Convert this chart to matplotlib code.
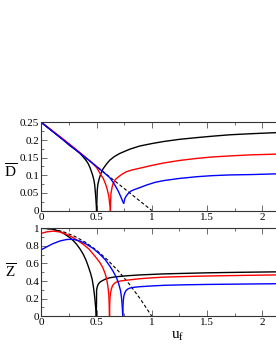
import matplotlib
matplotlib.use("Agg")
import matplotlib.pyplot as plt
from matplotlib.ticker import MultipleLocator

plt.rcParams['font.family'] = ['Liberation Serif', 'DejaVu Serif']
plt.rcParams['mathtext.fontset'] = 'custom'
plt.rcParams['mathtext.rm'] = 'Liberation Serif'
plt.rcParams['mathtext.it'] = 'Liberation Serif:italic'

# ---- D-bar panel data ----
d_dash_u = [0.0, 1.0]
d_dash_v = [0.25, 0.0]

d_black_left_u = [0.0, 0.10, 0.20, 0.258, 0.29, 0.319, 0.35, 0.379, 0.405, 0.424, 0.44, 0.454, 0.466, 0.476, 0.483, 0.487, 0.491, 0.494, 0.497, 0.5]
d_black_left_v = [0.25, 0.225, 0.200, 0.184, 0.177, 0.170, 0.162, 0.152, 0.142, 0.133, 0.122, 0.110, 0.098, 0.086, 0.072, 0.058, 0.044, 0.030, 0.015, 0.0]
d_black_right_u = [0.5, 0.502, 0.504, 0.506, 0.512, 0.524, 0.54, 0.56, 0.59, 0.62, 0.66, 0.71, 0.80, 0.89, 1.0, 1.11, 1.25, 1.41, 1.55, 1.71, 1.9, 2.125]
d_black_right_v = [0.0, 0.020, 0.040, 0.058, 0.075, 0.091, 0.106, 0.119, 0.132, 0.143, 0.153, 0.162, 0.174, 0.183, 0.190, 0.196, 0.202, 0.207, 0.211, 0.215, 0.218, 0.221]

d_red_left_u = [0.0, 0.10, 0.20, 0.30, 0.40, 0.45, 0.50, 0.53, 0.56, 0.575, 0.59, 0.60, 0.609, 0.614, 0.618, 0.622, 0.625]
d_red_left_v = [0.25, 0.226, 0.202, 0.177, 0.151, 0.138, 0.122, 0.106, 0.091, 0.080, 0.067, 0.055, 0.043, 0.032, 0.020, 0.010, 0.0]
d_red_right_u = [0.625, 0.627, 0.63, 0.64, 0.65, 0.67, 0.696, 0.73, 0.77, 0.82, 0.89, 1.0, 1.11, 1.25, 1.41, 1.55, 1.71, 1.9, 2.125]
d_red_right_v = [0.0, 0.025, 0.048, 0.066, 0.077, 0.088, 0.095, 0.103, 0.110, 0.115, 0.120, 0.128, 0.135, 0.142, 0.148, 0.152, 0.155, 0.158, 0.160]

d_blue_left_u = [0.0, 0.10, 0.20, 0.30, 0.40, 0.50, 0.58, 0.62, 0.65, 0.675, 0.696, 0.712, 0.726, 0.735, 0.741, 0.745]
d_blue_left_v = [0.25, 0.225, 0.200, 0.175, 0.150, 0.125, 0.104, 0.093, 0.080, 0.067, 0.055, 0.044, 0.034, 0.027, 0.023, 0.021]
d_blue_right_u = [0.745, 0.75, 0.756, 0.77, 0.786, 0.81, 0.847, 0.892, 0.95, 1.03, 1.11, 1.25, 1.41, 1.55, 1.71, 1.9, 2.125]
d_blue_right_v = [0.021, 0.026, 0.034, 0.042, 0.048, 0.055, 0.060, 0.065, 0.072, 0.080, 0.085, 0.091, 0.096, 0.099, 0.101, 0.102, 0.104]

# ---- Z-bar panel data ----
z_dash_u = [0.0, 0.1, 0.2, 0.3, 0.4, 0.5, 0.6, 0.7, 0.8, 0.9, 1.0]
z_dash_v = [1.0, 0.99, 0.96, 0.91, 0.84, 0.75, 0.64, 0.51, 0.36, 0.19, 0.0]

z_black_left_u = [0.0, 0.05, 0.10, 0.168, 0.21, 0.258, 0.29, 0.319, 0.35, 0.379, 0.405, 0.424, 0.445, 0.46, 0.47, 0.478, 0.485, 0.49, 0.494, 0.497]
z_black_left_v = [1.0, 0.997, 0.99, 0.965, 0.935, 0.893, 0.858, 0.818, 0.765, 0.705, 0.635, 0.570, 0.490, 0.420, 0.345, 0.270, 0.190, 0.120, 0.060, 0.0]
z_black_right_u = [0.497, 0.499, 0.5, 0.507, 0.515, 0.53, 0.545, 0.58, 0.62, 0.68, 0.77, 0.89, 1.0, 1.11, 1.3, 1.5, 1.8, 2.125]
z_black_right_v = [0.0, 0.15, 0.30, 0.34, 0.365, 0.388, 0.400, 0.423, 0.438, 0.450, 0.460, 0.470, 0.476, 0.482, 0.488, 0.494, 0.500, 0.505]

z_red_left_u = [0.0, 0.05, 0.11, 0.168, 0.23, 0.288, 0.33, 0.379, 0.43, 0.47, 0.50, 0.53, 0.555, 0.575, 0.59, 0.60, 0.607, 0.611, 0.614, 0.617]
z_red_left_v = [0.943, 0.960, 0.968, 0.958, 0.930, 0.894, 0.860, 0.818, 0.765, 0.705, 0.660, 0.610, 0.555, 0.495, 0.430, 0.360, 0.290, 0.230, 0.140, 0.0]
z_red_right_u = [0.617, 0.619, 0.622, 0.627, 0.635, 0.645, 0.66, 0.68, 0.72, 0.77, 0.89, 1.0, 1.11, 1.3, 1.5, 1.8, 2.125]
z_red_right_v = [0.0, 0.14, 0.22, 0.27, 0.315, 0.350, 0.372, 0.390, 0.402, 0.410, 0.427, 0.437, 0.445, 0.452, 0.458, 0.464, 0.470]

z_blue_left_u = [0.0, 0.05, 0.10, 0.168, 0.23, 0.288, 0.35, 0.41, 0.47, 0.53, 0.58, 0.62, 0.65, 0.68, 0.70, 0.717, 0.725, 0.73, 0.734, 0.737]
z_blue_left_v = [0.757, 0.790, 0.823, 0.856, 0.873, 0.875, 0.855, 0.818, 0.770, 0.705, 0.640, 0.570, 0.510, 0.440, 0.370, 0.290, 0.220, 0.150, 0.080, 0.0]
z_blue_right_u = [0.737, 0.739, 0.742, 0.747, 0.755, 0.765, 0.78, 0.80, 0.84, 0.89, 1.0, 1.11, 1.3, 1.5, 1.8, 2.125]
z_blue_right_v = [0.0, 0.12, 0.18, 0.23, 0.265, 0.290, 0.308, 0.320, 0.330, 0.336, 0.345, 0.352, 0.358, 0.362, 0.366, 0.370]

x_max = 2.125

fig = plt.figure(figsize=(2.76, 3.58), dpi=100)
ax1 = fig.add_axes([0.150, 0.412, 0.850, 0.246])
ax2 = fig.add_axes([0.150, 0.1165, 0.850, 0.2458])

lw = 1.0
for ax in (ax1, ax2):
    ax.set_xlim(0, x_max)
    ax.xaxis.set_major_locator(MultipleLocator(0.5))
    ax.xaxis.set_minor_locator(MultipleLocator(0.25))
    ax.tick_params(which='both', direction='in', top=True, right=False,
                   labelsize=8, pad=1.5, width=0.6, color='#555555')
    ax.tick_params(which='major', length=4)
    ax.tick_params(which='minor', length=2)
    ax.spines['right'].set_visible(False)
    for s in ('left', 'top', 'bottom'):
        ax.spines[s].set_linewidth(0.8)
        ax.spines[s].set_color('#333333')
    ax.set_xticks([0, 0.5, 1, 1.5, 2])
    ax.set_xticklabels(['0', '0.5', '1', '1.5', '2'])

# top panel
ax1.plot(d_dash_u, d_dash_v, color='black', lw=0.8, ls=(0, (3, 2)))
ax1.plot(d_black_left_u, d_black_left_v, color='black', lw=lw)
ax1.plot(d_black_right_u, d_black_right_v, color='black', lw=lw)
ax1.plot(d_red_left_u, d_red_left_v, color='red', lw=lw)
ax1.plot(d_red_right_u, d_red_right_v, color='red', lw=lw)
ax1.plot(d_blue_left_u, d_blue_left_v, color='blue', lw=lw)
ax1.plot(d_blue_right_u, d_blue_right_v, color='blue', lw=lw)
ax1.set_ylim(0, 0.25)
ax1.yaxis.set_minor_locator(MultipleLocator(0.025))
ax1.set_yticks([0, 0.05, 0.1, 0.15, 0.2, 0.25])
ax1.set_yticklabels(['0', '0.05', '0.1', '0.15', '0.2', '0.25'])

# bottom panel
ax2.plot(z_dash_u, z_dash_v, color='black', lw=0.8, ls=(0, (3, 2)))
ax2.plot(z_black_left_u, z_black_left_v, color='black', lw=lw)
ax2.plot(z_black_right_u, z_black_right_v, color='black', lw=lw)
ax2.plot(z_red_left_u, z_red_left_v, color='red', lw=lw)
ax2.plot(z_red_right_u, z_red_right_v, color='red', lw=lw)
ax2.plot(z_blue_left_u, z_blue_left_v, color='blue', lw=lw)
ax2.plot(z_blue_right_u, z_blue_right_v, color='blue', lw=lw)
ax2.set_ylim(0, 1)
ax2.yaxis.set_minor_locator(MultipleLocator(0.1))
ax2.set_yticks([0, 0.2, 0.4, 0.6, 0.8, 1.0])
ax2.set_yticklabels(['0', '0.2', '0.4', '0.6', '0.8', '1'])

W, H = 276.0, 358.0
fig.text(11 / W, 1 - 172 / H, r'$\overline{\mathrm{D}}$', fontsize=11, ha='center', va='center')
fig.text(11 / W, 1 - 272 / H, r'$\overline{\mathrm{Z}}$', fontsize=11, ha='center', va='center')
fig.text(178 / W, 1 - 336 / H, r'$\mathrm{u_f}$', fontsize=11, ha='center', va='center')

fig.savefig('out.png', dpi=100)
